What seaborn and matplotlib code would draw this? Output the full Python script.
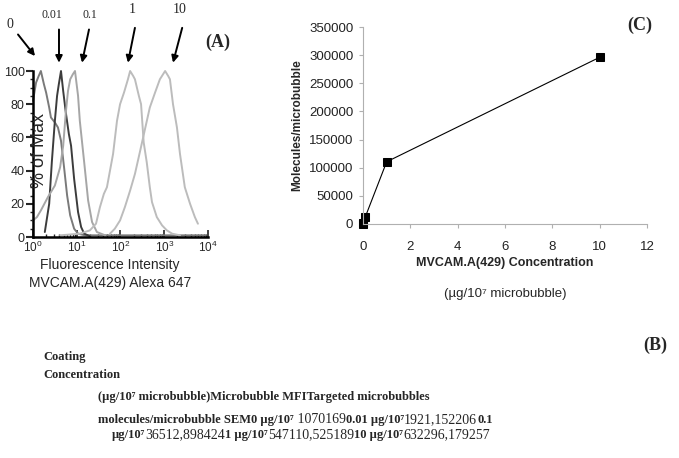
import numpy as np
import pandas as pd
import seaborn as sns
import matplotlib.pyplot as plt
from matplotlib.ticker import MultipleLocator, LogLocator, NullFormatter

# ---- Panel A: flow cytometry histograms (log10 intensity, % of max) ----
conc_labels = ["0", "0.01", "0.1", "1", "10"]

log_int_0 = [0.00, 0.07, 0.13, 0.18, 0.25, 0.30, 0.37, 0.41, 0.50, 0.57, 0.64,
             0.71, 0.78, 0.85, 0.94, 1.03, 1.19, 2.00, 3.00, 3.95]
pct_0 = [82, 93, 97, 100, 92, 87, 78, 72, 69, 66, 58, 42, 25, 13, 5, 2, 1, 1, 1, 1]

log_int_001 = [0.27, 0.37, 0.43, 0.50, 0.55, 0.59, 0.64, 0.69, 0.75, 0.82, 0.87,
               0.94, 1.03, 1.10, 1.17, 1.30]
pct_001 = [3, 20, 45, 70, 85, 92, 100, 88, 75, 62, 55, 35, 15, 6, 2, 0.5]

log_int_01 = [0.00, 0.09, 0.18, 0.34, 0.50, 0.62, 0.69, 0.75, 0.80, 0.85, 0.91,
              0.96, 1.03, 1.07, 1.17, 1.26, 1.35, 1.46, 1.65]
pct_01 = [10, 12, 16, 24, 31, 42, 55, 75, 88, 95, 98, 100, 85, 70, 45, 22, 9, 3, 1]

log_int_1 = [0.62, 1.07, 1.30, 1.44, 1.53, 1.62, 1.69, 1.76, 1.83, 1.92, 1.99,
             2.08, 2.17, 2.22, 2.29, 2.33, 2.42, 2.47, 2.53, 2.60, 2.67, 2.72,
             2.83, 2.95, 3.06, 3.18, 3.36]
pct_1 = [1, 2, 4, 8, 18, 26, 30, 40, 50, 70, 80, 87, 95, 100, 97, 95, 85, 80,
         57, 45, 30, 21, 12, 7, 4, 2, 1]

log_int_10 = [1.76, 1.87, 1.99, 2.10, 2.22, 2.33, 2.45, 2.56, 2.67, 2.79, 2.90,
              3.02, 3.09, 3.13, 3.20, 3.29, 3.36, 3.47, 3.59, 3.70, 3.77]
pct_10 = [2, 5, 10, 18, 28, 38, 52, 65, 78, 87, 95, 100, 97, 95, 80, 66, 50,
          30, 20, 12, 8]

curve_colors = {"0": "#7a7a7a", "0.01": "#3c3c3c", "0.1": "#a6a6a6",
                "1": "#bcbcbc", "10": "#bcbcbc"}

# ---- Panel C: molecules per microbubble ----
coat_conc = [0, 0.01, 0.1, 1, 10]
molecules = [0, 1152, 12898, 110525, 296179]

# ---- Panel B: table text (as printed) ----
table_lines = [
    [("Coating", "bold", 9)],
    [("Concentration", "bold", 9)],
    [("(µg/10⁷ microbubble)Microbubble MFITargeted microbubbles", "bold", 9)],
    [("molecules/microbubble SEM0 µg/10⁷", "bold", 9), (" 1070169", "normal", 10),
     ("0.01 µg/10⁷", "bold", 9), ("1921,152206", "normal", 10), ("0.1", "bold", 9)],
    [("µg/10⁷", "bold", 9), ("36512,898424", "normal", 10), ("1 µg/10⁷", "bold", 9),
     ("547110,525189", "normal", 10), ("10 µg/10⁷", "bold", 9),
     ("632296,179257", "normal", 10)],
]
table_pos = [(43, 360), (43, 378), (98, 400), (98, 423), (112, 438)]

sns.set_style("ticks")
plt.rcParams["font.family"] = ["Liberation Sans", "DejaVu Sans"]
serif = ["Liberation Serif", "DejaVu Serif"]

W, H = 679, 458
fig = plt.figure(figsize=(W / 100, H / 100), dpi=100)

# Panel A
ax_a = fig.add_axes([33 / W, 1 - 237 / H, 175 / W, 166 / H])
frames = []
for lab, lx, py in zip(conc_labels,
                       [log_int_0, log_int_001, log_int_01, log_int_1, log_int_10],
                       [pct_0, pct_001, pct_01, pct_1, pct_10]):
    frames.append(pd.DataFrame({"intensity": 10 ** np.array(lx), "pct": py, "conc": lab}))
hist_df = pd.concat(frames, ignore_index=True)
sns.lineplot(data=hist_df, x="intensity", y="pct", hue="conc", palette=curve_colors,
             estimator=None, linewidth=1.4, legend=False, ax=ax_a, clip_on=False)
ax_a.set_xscale("log")
ax_a.set_xlim(1, 1e4)
ax_a.set_ylim(0, 100)
ax_a.yaxis.set_major_locator(MultipleLocator(20))
ax_a.yaxis.set_minor_locator(MultipleLocator(5))
ax_a.xaxis.set_major_locator(LogLocator(base=10, numticks=10))
ax_a.xaxis.set_minor_locator(LogLocator(base=10, subs=np.arange(2, 10), numticks=10))
ax_a.xaxis.set_minor_formatter(NullFormatter())
ax_a.tick_params(axis="y", which="major", direction="out", length=5, width=1.5,
                 labelsize=9, pad=1)
ax_a.tick_params(axis="y", which="minor", direction="out", length=2.5, width=1)
ax_a.tick_params(axis="x", which="major", direction="in", length=5, width=1.2,
                 labelsize=8.5, pad=2)
ax_a.tick_params(axis="x", which="minor", direction="in", length=2.5, width=1)
for s in ["top", "right"]:
    ax_a.spines[s].set_visible(False)
for s in ["left", "bottom"]:
    ax_a.spines[s].set_linewidth(1.8)
    ax_a.spines[s].set_color("black")
ax_a.set_xlabel("")
ax_a.set_ylabel("")
ax_a.text(0.035, 0.52, "% of Max", rotation=90, transform=ax_a.transAxes,
          ha="center", va="center", fontsize=13)
fig.text(110 / W, 1 - 265 / H, "Fluorescence Intensity", ha="center", va="center",
         fontsize=10)
fig.text(110 / W, 1 - 283 / H, "MVCAM.A(429) Alexa 647", ha="center", va="center",
         fontsize=10)

# concentration arrows above the histograms
arrow_text = [(-0.526, 128), (0.434, 134), (1.303, 134), (2.263, 137), (3.36, 137)]
arrow_tail = [(-0.343, 122), (0.594, 125), (1.28, 125), (2.33, 126), (3.41, 126)]
arrow_head = [(0.046, 109), (0.594, 105), (1.12, 105), (2.17, 105), (3.20, 105)]
text_size = [10, 8.5, 8.5, 10, 10]
for lab, (tx, ty), (ax0, ay0), (hx, hy), fs in zip(conc_labels, arrow_text,
                                                    arrow_tail, arrow_head, text_size):
    ax_a.text(10 ** tx, ty, lab, ha="center", va="center", fontsize=fs,
              family=serif, clip_on=False)
    ax_a.annotate("", xy=(10 ** hx, hy), xytext=(10 ** ax0, ay0),
                  arrowprops=dict(arrowstyle="-|>", color="black", lw=1.4,
                                  mutation_scale=10, shrinkA=0, shrinkB=0),
                  annotation_clip=False)

# Panel C
ax_c = fig.add_axes([363 / W, 1 - 224 / H, 284 / W, 197 / H])
sns.lineplot(x=coat_conc, y=molecules, marker="s", markersize=6, color="black",
             markeredgecolor="black", linewidth=0.8, ax=ax_c, clip_on=False)
ax_c.set_xlim(0, 12)
ax_c.set_ylim(0, 350000)
ax_c.xaxis.set_major_locator(MultipleLocator(2))
ax_c.yaxis.set_major_locator(MultipleLocator(50000))
ax_c.tick_params(axis="both", direction="out", length=3, width=0.8, color="#b0b0b0",
                 labelsize=9.5, labelcolor="#222222", pad=4)
ax_c.tick_params(axis="x", pad=9)
for s in ["top", "right"]:
    ax_c.spines[s].set_visible(False)
for s in ["left", "bottom"]:
    ax_c.spines[s].set_linewidth(0.8)
    ax_c.spines[s].set_color("#b0b0b0")
ax_c.set_ylabel("Molecules/microbubble", fontsize=8.5, fontweight="bold")
ax_c.yaxis.set_label_coords(-0.211, 0.5)
ax_c.set_xlabel("MVCAM.A(429) Concentration", fontsize=9, fontweight="bold")
ax_c.xaxis.set_label_coords(0.5, -0.17)
ax_c.text(0.5, -0.355, "(µg/10⁷ microbubble)", transform=ax_c.transAxes,
          ha="center", va="center", fontsize=9.5)

# Panel letters
fig.text(218 / W, 1 - 42 / H, "(A)", family=serif, fontweight="bold", fontsize=13,
         ha="center", va="center")
fig.text(640 / W, 1 - 25 / H, "(C)", family=serif, fontweight="bold", fontsize=13,
         ha="center", va="center")
fig.text(655 / W, 1 - 345 / H, "(B)", family=serif, fontweight="bold", fontsize=13,
         ha="center", va="center")

# Panel B: table text, segments chained one after another
for segs, (px, py) in zip(table_lines, table_pos):
    txt, wt, fs = segs[0]
    prev = fig.text(px / W, 1 - py / H, txt, family=serif, fontweight=wt,
                    fontsize=fs, ha="left", va="baseline")
    for txt, wt, fs in segs[1:]:
        prev = ax_a.annotate(txt, xy=(1, 0), xycoords=prev, family=serif,
                             fontweight=wt, fontsize=fs, ha="left", va="bottom",
                             annotation_clip=False)

fig.savefig("out.png", dpi=100)
